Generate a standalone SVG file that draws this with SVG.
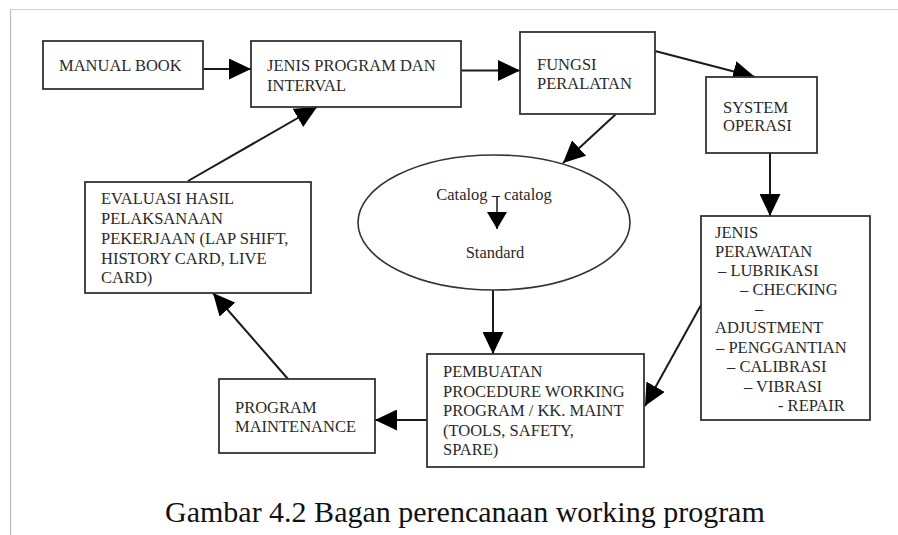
<svg xmlns="http://www.w3.org/2000/svg" width="898" height="535" viewBox="0 0 898 535">
<style>
.box{fill:#fff;stroke:#333;stroke-width:1.8}
.t{font-family:"Liberation Serif","Times New Roman",serif;font-size:16.5px;fill:#2a2a2a}
.c{fill:none;stroke:#1a1a1a;stroke-width:2}
.cap{font-family:"Liberation Serif","Times New Roman",serif;font-size:30px;fill:#111}
</style>
<defs>
<marker id="ah" markerUnits="userSpaceOnUse" markerWidth="22" markerHeight="21" refX="22" refY="10.5" orient="auto" viewBox="0 0 22 21">
<path d="M0,0 L22,10.5 L0,21 z" fill="#000"/>
</marker>
<marker id="ahs" markerUnits="userSpaceOnUse" markerWidth="17" markerHeight="20" refX="17" refY="10" orient="auto" viewBox="0 0 17 20">
<path d="M0,0 L17,10 L0,20 z" fill="#000"/>
</marker>
</defs>
<rect width="898" height="535" fill="#fff"/>
<line x1="10" y1="9.5" x2="898" y2="9.5" stroke="#d4d4d4" stroke-width="1"/>
<line x1="10.5" y1="9" x2="10.5" y2="535" stroke="#bdbdbd" stroke-width="1.2"/>
<g id="connectors">
<line class="c" x1="203" y1="69" x2="251" y2="69" marker-end="url(#ah)"/>
<line class="c" x1="461" y1="70.5" x2="520" y2="70.5" marker-end="url(#ah)"/>
<line class="c" x1="655" y1="51" x2="755" y2="77" marker-end="url(#ah)"/>
<line class="c" x1="616" y1="114" x2="563" y2="163" marker-end="url(#ah)"/>
<line class="c" x1="770" y1="153" x2="770" y2="216" marker-end="url(#ah)"/>
<line class="c" x1="701" y1="305" x2="645" y2="406" marker-end="url(#ah)"/>
<line class="c" x1="493" y1="290" x2="493" y2="354" marker-end="url(#ah)"/>
<line class="c" x1="427" y1="420" x2="375" y2="420" marker-end="url(#ah)"/>
<line class="c" x1="288" y1="379" x2="213" y2="293" marker-end="url(#ah)"/>
<line class="c" x1="188" y1="181" x2="317" y2="107" marker-end="url(#ah)"/>
</g>
<g id="manual-book">
<rect class="box" x="43" y="41" width="160" height="48"/>
<text class="t" x="59" y="71">MANUAL BOOK</text>
</g>
<g id="jenis-program">
<rect class="box" x="251" y="41" width="210" height="66"/>
<text class="t" x="267" y="71">JENIS PROGRAM DAN</text>
<text class="t" x="267" y="91">INTERVAL</text>
</g>
<g id="fungsi-peralatan">
<rect class="box" x="520" y="32" width="135" height="82"/>
<text class="t" x="537" y="70">FUNGSI</text>
<text class="t" x="537" y="89">PERALATAN</text>
</g>
<g id="system-operasi">
<rect class="box" x="706" y="77" width="111" height="76"/>
<text class="t" x="723" y="113">SYSTEM</text>
<text class="t" x="723" y="131">OPERASI</text>
</g>
<g id="catalog">
<ellipse cx="494" cy="222.5" rx="136" ry="67.5" fill="#fff" stroke="#333" stroke-width="1.6"/>
<text class="t" x="494" y="200" text-anchor="middle">Catalog – catalog</text>
<line x1="497" y1="196" x2="497" y2="229" stroke="#1a1a1a" stroke-width="1.5" marker-end="url(#ahs)"/>
<text class="t" x="495" y="258" text-anchor="middle">Standard</text>
</g>
<g id="jenis-perawatan">
<rect class="box" x="701" y="216" width="169" height="204"/>
<text class="t" x="715" y="238">JENIS</text>
<text class="t" x="715" y="257">PERAWATAN</text>
<text class="t" x="718" y="276">– LUBRIKASI</text>
<text class="t" x="740" y="295">– CHECKING</text>
<text class="t" x="755" y="314">–</text>
<text class="t" x="715" y="333">ADJUSTMENT</text>
<text class="t" x="716" y="353">– PENGGANTIAN</text>
<text class="t" x="727" y="372">– CALIBRASI</text>
<text class="t" x="744" y="392">– VIBRASI</text>
<text class="t" x="778" y="411">- REPAIR</text>
</g>
<g id="pembuatan">
<rect class="box" x="427" y="354" width="217" height="113"/>
<text class="t" x="443" y="377">PEMBUATAN</text>
<text class="t" x="443" y="397">PROCEDURE WORKING</text>
<text class="t" x="443" y="416">PROGRAM / KK. MAINT</text>
<text class="t" x="443" y="436">(TOOLS, SAFETY,</text>
<text class="t" x="443" y="455">SPARE)</text>
</g>
<g id="program-maintenance">
<rect class="box" x="219" y="379" width="156" height="74"/>
<text class="t" x="235" y="413">PROGRAM</text>
<text class="t" x="235" y="432">MAINTENANCE</text>
</g>
<g id="evaluasi">
<rect class="box" x="85" y="182" width="226" height="111"/>
<text class="t" x="101" y="204">EVALUASI HASIL</text>
<text class="t" x="101" y="224">PELAKSANAAN</text>
<text class="t" x="101" y="244">PEKERJAAN (LAP SHIFT,</text>
<text class="t" x="101" y="264">HISTORY CARD, LIVE</text>
<text class="t" x="101" y="283">CARD)</text>
</g>
<text class="cap" x="165" y="522">Gambar 4.2 Bagan perencanaan working program</text>
</svg>
